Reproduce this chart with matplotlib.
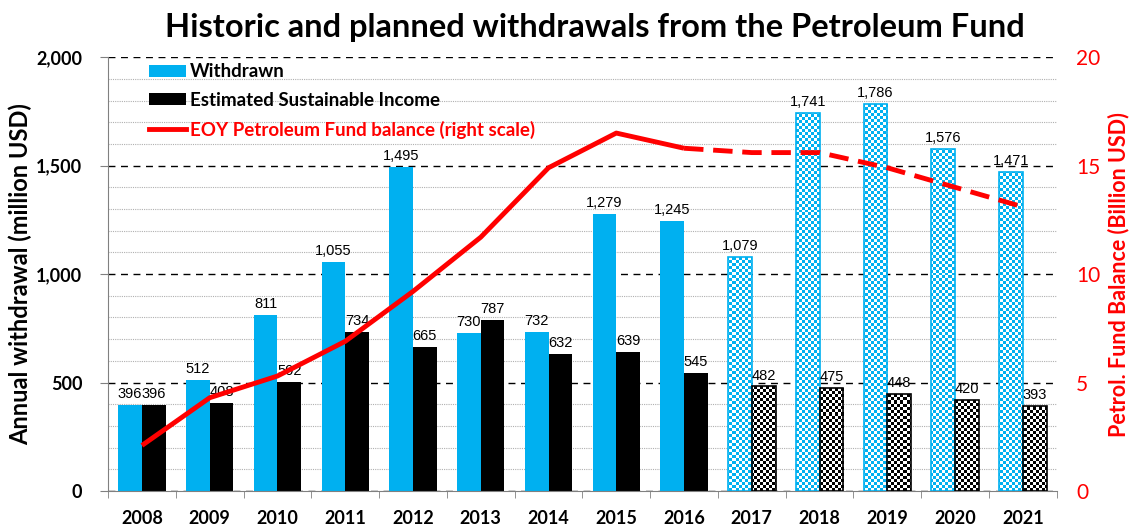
#!/usr/bin/env python3
import matplotlib
matplotlib.use("Agg")
import matplotlib.pyplot as plt
import numpy as np
from matplotlib.patches import Patch
from matplotlib.lines import Line2D
from matplotlib.ticker import MultipleLocator, FuncFormatter

years = ["2008", "2009", "2010", "2011", "2012", "2013", "2014",
         "2015", "2016", "2017", "2018", "2019", "2020", "2021"]
withdrawn = [396, 512, 811, 1055, 1495, 730, 732, 1279, 1245, 1079, 1741, 1786, 1576, 1471]
sustainable = [396, 408, 502, 734, 665, 787, 632, 639, 545, 482, 475, 448, 420, 393]
balance = [2.1, 4.3, 5.3, 6.9, 9.2, 11.7, 14.9, 16.5, 15.8, 15.6, 15.6, 14.9, 14.0, 13.1]
first_planned = 9  # 2017 onwards is planned

BLUE = "#00b0f0"
RED = "#ff0000"
MAIN_FONT = ["Lato", "DejaVu Sans"]
NUM_FONT = ["Liberation Sans Narrow", "Liberation Sans", "DejaVu Sans"]

plt.rcParams["font.family"] = MAIN_FONT


def checker(rows, cols, color):
    pattern = (np.add.outer(np.arange(rows), np.arange(cols)) % 2).astype(float)
    rgb = np.array(matplotlib.colors.to_rgb(color))
    img = np.ones((rows, cols, 3))
    img[pattern == 1] = rgb
    return img


def main() -> None:
    fig = plt.figure(figsize=(11.29, 5.29), dpi=100)
    ax = fig.add_axes([0.0957, 0.0718, 0.8403, 0.8202])
    x = np.arange(len(years))
    width = 0.35

    bars_w = ax.bar(x - width / 2, withdrawn, width, color=BLUE, zorder=2)
    bars_s = ax.bar(x + width / 2, sustainable, width, color="black", zorder=2)

    ax.set_xlim(-0.5, len(years) - 0.5)
    ax.set_ylim(0, 2000)

    # checkerboard fill for planned years
    blue_img = checker(145, 316, BLUE)
    black_img = checker(145, 316, "black")
    ext = (-0.5, len(years) - 0.5, 0, 2000)
    for i in range(first_planned, len(years)):
        for bar, img, edge in ((bars_w[i], blue_img, BLUE), (bars_s[i], black_img, "black")):
            im = ax.imshow(img, extent=ext, aspect="auto", interpolation="nearest",
                           origin="lower", zorder=2.5)
            im.set_clip_path(bar)
            bar.set_facecolor("none")
            bar.set_edgecolor(edge)
            bar.set_linewidth(1.2)
            bar.set_zorder(2.6)

    ax.set_xlim(-0.5, len(years) - 0.5)
    ax.set_ylim(0, 2000)

    for i in range(len(years)):
        ax.text(x[i] - width / 2, withdrawn[i] + 18, f"{withdrawn[i]:,}", ha="center",
                va="bottom", fontsize=10.5, family=NUM_FONT, zorder=4)
        ax.text(x[i] + width / 2, sustainable[i] + 18, f"{sustainable[i]:,}", ha="center",
                va="bottom", fontsize=10.5, family=NUM_FONT, zorder=4)

    # grid
    ax.yaxis.set_major_locator(MultipleLocator(500))
    ax.yaxis.set_minor_locator(MultipleLocator(100))
    ax.grid(axis="y", which="major", color="black", linestyle=(0, (5, 4)), linewidth=1.0, zorder=1)
    ax.grid(axis="y", which="minor", color="#b0b0b0", linestyle=(0, (1, 1)), linewidth=0.8, zorder=1)
    ax.set_axisbelow(True)
    ax.yaxis.set_major_formatter(FuncFormatter(lambda v, p: f"{int(v):,}"))
    ax.tick_params(axis="y", which="minor", length=0)
    ax.tick_params(axis="y", which="major", length=5.5, color="#808080", labelsize=13, pad=13)
    for lab in ax.get_yticklabels():
        lab.set_fontweight("bold")

    ax.set_xticks(x)
    ax.set_xticklabels(years, fontsize=13, fontweight="bold")
    ax.set_xticks(np.arange(len(years) + 1) - 0.5, minor=True)
    ax.tick_params(axis="x", which="major", length=0, pad=14)
    ax.tick_params(axis="x", which="minor", length=5, color="#808080")

    for side in ("top", "right"):
        ax.spines[side].set_visible(False)
    ax.spines["left"].set_color("#808080")
    ax.spines["bottom"].set_color("#808080")

    ax.set_ylabel("Annual withdrawal (million USD)", fontsize=17, fontweight="bold", labelpad=3)

    # right axis: fund balance
    ax2 = ax.twinx()
    ax2.plot(x[:first_planned], balance[:first_planned], color=RED, linewidth=3.5,
             solid_capstyle="butt", zorder=5)
    ax2.plot(x[first_planned - 1:], balance[first_planned - 1:], color=RED, linewidth=3.5,
             linestyle=(0, (4, 2)), zorder=5)
    ax2.set_ylim(0, 20)
    ax2.yaxis.set_major_locator(MultipleLocator(5))
    ax2.tick_params(axis="y", length=0, labelsize=15, labelcolor=RED, pad=14)
    for spine in ax2.spines.values():
        spine.set_visible(False)
    ax2.set_ylabel("Petrol. Fund Balance (Billion USD)", fontsize=15.5, fontweight="bold",
                   color=RED, labelpad=5)

    handles = [
        Patch(facecolor=BLUE),
        Patch(facecolor="black"),
        Line2D([0], [0], color=RED, linewidth=3.5),
    ]
    labels = ["Withdrawn", "Estimated Sustainable Income", "EOY Petroleum Fund balance (right scale)"]
    leg = ax.legend(handles, labels, loc="upper left", bbox_to_anchor=(0.025, 1.025), frameon=False,
                    prop={"size": 13.5, "weight": "bold"}, handlelength=2.0, handleheight=0.6,
                    handletextpad=0.2, labelspacing=0.62)
    leg.set_zorder(6)
    leg.get_texts()[2].set_color(RED)

    fig.text(0.527, 1 - 37 / 529, "Historic and planned withdrawals from the Petroleum Fund",
             fontsize=23.5, fontweight="bold", ha="center", va="baseline")

    fig.savefig("out.png", dpi=100)
    plt.close(fig)


if __name__ == "__main__":
    main()
